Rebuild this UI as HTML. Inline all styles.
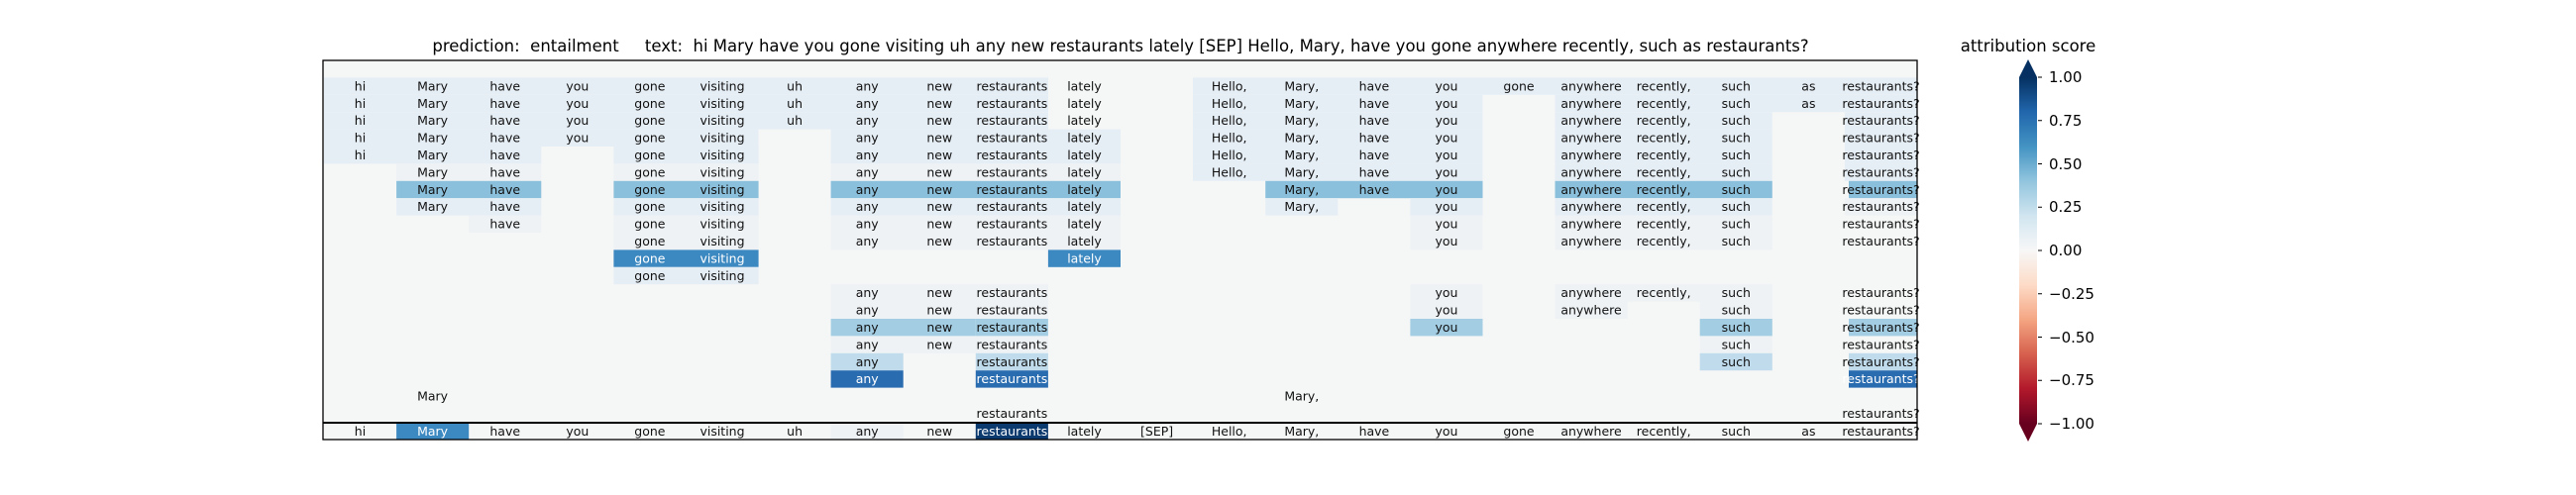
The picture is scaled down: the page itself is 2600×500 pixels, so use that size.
<!DOCTYPE html>
<html><head><meta charset="utf-8"><style>
html,body{margin:0;padding:0;background:#fff;width:2600px;height:500px;overflow:hidden}
svg{display:block}
text{font-family:"DejaVu Sans","Liberation Sans",sans-serif}
.c text{font-size:12.5px;text-anchor:middle;fill:#111}
.w{fill:#fff!important}
.a{fill:#e6eef5}.b{fill:#eef2f5}.m{fill:#8bc0dc}.n{fill:#a3cde3}.l{fill:#bfdbec}.d{fill:#3c88c1}.e{fill:#2a6cb0}.x{fill:#0b3a6f}
</style></head><body>
<svg width="2600" height="500" xmlns="http://www.w3.org/2000/svg">
<defs>
<linearGradient id="g" x1="0" y1="0" x2="0" y2="1">
<stop offset="0" stop-color="#053061"/><stop offset="0.1" stop-color="#2166ac"/><stop offset="0.2" stop-color="#4393c3"/><stop offset="0.3" stop-color="#92c5de"/><stop offset="0.4" stop-color="#d1e5f0"/><stop offset="0.5" stop-color="#f7f7f7"/><stop offset="0.6" stop-color="#fddbc7"/><stop offset="0.7" stop-color="#f4a582"/><stop offset="0.8" stop-color="#d6604d"/><stop offset="0.9" stop-color="#b2182b"/><stop offset="1" stop-color="#67001f"/>
</linearGradient>
</defs>
<text x="1131" y="52" font-size="16.5" text-anchor="middle" fill="#000" xml:space="preserve">prediction:  entailment     text:  hi Mary have you gone visiting uh any new restaurants lately [SEP] Hello, Mary, have you gone anywhere recently, such as restaurants?</text>
<rect x="326" y="61" width="1609" height="383" fill="#f5f6f6"/>
<g class="c">
<!-- R1 -->
<g transform="translate(0,78.4)">
<rect x="327" width="731" height="17.4" class="a"/><rect x="1204" width="731" height="17.4" class="a"/>
<text x="363.5" y="13">hi</text><text x="436.6" y="13">Mary</text><text x="509.7" y="13">have</text><text x="582.8" y="13">you</text><text x="655.9" y="13">gone</text><text x="729" y="13">visiting</text><text x="802.1" y="13">uh</text><text x="875.2" y="13">any</text><text x="948.3" y="13">new</text><text x="1021.4" y="13">restaurants</text><text x="1094.5" y="13">lately</text>
<text x="1240.7" y="13">Hello,</text><text x="1313.8" y="13">Mary,</text><text x="1386.9" y="13">have</text><text x="1460" y="13">you</text><text x="1533" y="13">gone</text><text x="1606" y="13">anywhere</text><text x="1679.2" y="13">recently,</text><text x="1752.3" y="13">such</text><text x="1825.4" y="13">as</text><text x="1898.5" y="13">restaurants?</text>
</g>
<!-- R2 -->
<g transform="translate(0,95.8)">
<rect x="327" width="731" height="17.4" class="a"/><rect x="1204" width="292.4" height="17.4" class="a"/><rect x="1569.5" width="365.5" height="17.4" class="a"/>
<text x="363.5" y="13">hi</text><text x="436.6" y="13">Mary</text><text x="509.7" y="13">have</text><text x="582.8" y="13">you</text><text x="655.9" y="13">gone</text><text x="729" y="13">visiting</text><text x="802.1" y="13">uh</text><text x="875.2" y="13">any</text><text x="948.3" y="13">new</text><text x="1021.4" y="13">restaurants</text><text x="1094.5" y="13">lately</text>
<text x="1240.7" y="13">Hello,</text><text x="1313.8" y="13">Mary,</text><text x="1386.9" y="13">have</text><text x="1460" y="13">you</text><text x="1606" y="13">anywhere</text><text x="1679.2" y="13">recently,</text><text x="1752.3" y="13">such</text><text x="1825.4" y="13">as</text><text x="1898.5" y="13">restaurants?</text>
</g>
<!-- R3 -->
<g transform="translate(0,113.2)">
<rect x="327" width="731" height="17.4" class="a"/><rect x="1204" width="292.4" height="17.4" class="a"/><rect x="1569.5" width="219.3" height="17.4" class="a"/><rect x="1861.9" width="73.1" height="17.4" class="a"/>
<text x="363.5" y="13">hi</text><text x="436.6" y="13">Mary</text><text x="509.7" y="13">have</text><text x="582.8" y="13">you</text><text x="655.9" y="13">gone</text><text x="729" y="13">visiting</text><text x="802.1" y="13">uh</text><text x="875.2" y="13">any</text><text x="948.3" y="13">new</text><text x="1021.4" y="13">restaurants</text><text x="1094.5" y="13">lately</text>
<text x="1240.7" y="13">Hello,</text><text x="1313.8" y="13">Mary,</text><text x="1386.9" y="13">have</text><text x="1460" y="13">you</text><text x="1606" y="13">anywhere</text><text x="1679.2" y="13">recently,</text><text x="1752.3" y="13">such</text><text x="1898.5" y="13">restaurants?</text>
</g>
<!-- R4 -->
<g transform="translate(0,130.6)">
<rect x="327" width="438.5" height="17.4" class="a"/><rect x="838.6" width="292.4" height="17.4" class="a"/><rect x="1204" width="292.4" height="17.4" class="a"/><rect x="1569.5" width="219.3" height="17.4" class="a"/><rect x="1861.9" width="73.1" height="17.4" class="a"/>
<text x="363.5" y="13">hi</text><text x="436.6" y="13">Mary</text><text x="509.7" y="13">have</text><text x="582.8" y="13">you</text><text x="655.9" y="13">gone</text><text x="729" y="13">visiting</text><text x="875.2" y="13">any</text><text x="948.3" y="13">new</text><text x="1021.4" y="13">restaurants</text><text x="1094.5" y="13">lately</text>
<text x="1240.7" y="13">Hello,</text><text x="1313.8" y="13">Mary,</text><text x="1386.9" y="13">have</text><text x="1460" y="13">you</text><text x="1606" y="13">anywhere</text><text x="1679.2" y="13">recently,</text><text x="1752.3" y="13">such</text><text x="1898.5" y="13">restaurants?</text>
</g>
<!-- R5 -->
<g transform="translate(0,148)">
<rect x="327" width="219.3" height="17.4" class="a"/><rect x="619.4" width="146.2" height="17.4" class="a"/><rect x="838.6" width="292.4" height="17.4" class="a"/><rect x="1204" width="292.4" height="17.4" class="a"/><rect x="1569.5" width="219.3" height="17.4" class="a"/><rect x="1861.9" width="73.1" height="17.4" class="a"/>
<text x="363.5" y="13">hi</text><text x="436.6" y="13">Mary</text><text x="509.7" y="13">have</text><text x="655.9" y="13">gone</text><text x="729" y="13">visiting</text><text x="875.2" y="13">any</text><text x="948.3" y="13">new</text><text x="1021.4" y="13">restaurants</text><text x="1094.5" y="13">lately</text>
<text x="1240.7" y="13">Hello,</text><text x="1313.8" y="13">Mary,</text><text x="1386.9" y="13">have</text><text x="1460" y="13">you</text><text x="1606" y="13">anywhere</text><text x="1679.2" y="13">recently,</text><text x="1752.3" y="13">such</text><text x="1898.5" y="13">restaurants?</text>
</g>
<!-- R6 -->
<g transform="translate(0,165.4)">
<rect x="400.1" width="146.2" height="17.4" class="b"/><rect x="619.4" width="146.2" height="17.4" class="b"/><rect x="838.6" width="292.4" height="17.4" class="b"/><rect x="1204" width="292.4" height="17.4" class="a"/><rect x="1569.5" width="219.3" height="17.4" class="a"/><rect x="1861.9" width="73.1" height="17.4" class="a"/>
<text x="436.6" y="13">Mary</text><text x="509.7" y="13">have</text><text x="655.9" y="13">gone</text><text x="729" y="13">visiting</text><text x="875.2" y="13">any</text><text x="948.3" y="13">new</text><text x="1021.4" y="13">restaurants</text><text x="1094.5" y="13">lately</text>
<text x="1240.7" y="13">Hello,</text><text x="1313.8" y="13">Mary,</text><text x="1386.9" y="13">have</text><text x="1460" y="13">you</text><text x="1606" y="13">anywhere</text><text x="1679.2" y="13">recently,</text><text x="1752.3" y="13">such</text><text x="1898.5" y="13">restaurants?</text>
</g>
<!-- R7 -->
<g transform="translate(0,182.8)">
<rect x="400.1" width="146.2" height="17.4" class="m"/><rect x="619.4" width="146.2" height="17.4" class="m"/><rect x="838.6" width="292.4" height="17.4" class="m"/><rect x="1277.2" width="219.3" height="17.4" class="m"/><rect x="1569.5" width="219.3" height="17.4" class="m"/><rect x="1866" width="69" height="17.4" class="m"/>
<text x="436.6" y="13">Mary</text><text x="509.7" y="13">have</text><text x="655.9" y="13">gone</text><text x="729" y="13">visiting</text><text x="875.2" y="13">any</text><text x="948.3" y="13">new</text><text x="1021.4" y="13">restaurants</text><text x="1094.5" y="13">lately</text>
<text x="1313.8" y="13">Mary,</text><text x="1386.9" y="13">have</text><text x="1460" y="13">you</text><text x="1606" y="13">anywhere</text><text x="1679.2" y="13">recently,</text><text x="1752.3" y="13">such</text><text x="1898.5" y="13">restaurants?</text>
</g>
<!-- R8 -->
<g transform="translate(0,200.2)">
<rect x="400.1" width="146.2" height="17.4" class="a"/><rect x="619.4" width="146.2" height="17.4" class="a"/><rect x="838.6" width="292.4" height="17.4" class="a"/><rect x="1277.2" width="73.1" height="17.4" class="a"/><rect x="1423.4" width="73.1" height="17.4" class="a"/><rect x="1569.5" width="219.3" height="17.4" class="a"/><rect x="1861.9" width="73.1" height="17.4" class="b"/>
<text x="436.6" y="13">Mary</text><text x="509.7" y="13">have</text><text x="655.9" y="13">gone</text><text x="729" y="13">visiting</text><text x="875.2" y="13">any</text><text x="948.3" y="13">new</text><text x="1021.4" y="13">restaurants</text><text x="1094.5" y="13">lately</text>
<text x="1313.8" y="13">Mary,</text><text x="1460" y="13">you</text><text x="1606" y="13">anywhere</text><text x="1679.2" y="13">recently,</text><text x="1752.3" y="13">such</text><text x="1898.5" y="13">restaurants?</text>
</g>
<!-- R9 -->
<g transform="translate(0,217.6)">
<rect x="473.2" width="73.1" height="17.4" class="b"/><rect x="619.4" width="146.2" height="17.4" class="b"/><rect x="838.6" width="292.4" height="17.4" class="b"/><rect x="1423.4" width="73.1" height="17.4" class="b"/><rect x="1569.5" width="219.3" height="17.4" class="b"/>
<text x="509.7" y="13">have</text><text x="655.9" y="13">gone</text><text x="729" y="13">visiting</text><text x="875.2" y="13">any</text><text x="948.3" y="13">new</text><text x="1021.4" y="13">restaurants</text><text x="1094.5" y="13">lately</text>
<text x="1460" y="13">you</text><text x="1606" y="13">anywhere</text><text x="1679.2" y="13">recently,</text><text x="1752.3" y="13">such</text><text x="1898.5" y="13">restaurants?</text>
</g>
<!-- R10 -->
<g transform="translate(0,235)">
<rect x="619.4" width="146.2" height="17.4" class="b"/><rect x="838.6" width="292.4" height="17.4" class="b"/><rect x="1423.4" width="73.1" height="17.4" class="b"/><rect x="1569.5" width="219.3" height="17.4" class="b"/>
<text x="655.9" y="13">gone</text><text x="729" y="13">visiting</text><text x="875.2" y="13">any</text><text x="948.3" y="13">new</text><text x="1021.4" y="13">restaurants</text><text x="1094.5" y="13">lately</text>
<text x="1460" y="13">you</text><text x="1606" y="13">anywhere</text><text x="1679.2" y="13">recently,</text><text x="1752.3" y="13">such</text><text x="1898.5" y="13">restaurants?</text>
</g>
<!-- R11 -->
<g transform="translate(0,252.4)">
<rect x="619.4" width="146.2" height="17.4" class="d"/><rect x="1057.9" width="73.1" height="17.4" class="d"/>
<text x="655.9" y="13" class="w">gone</text><text x="729" y="13" class="w">visiting</text><text x="1094.5" y="13" class="w">lately</text>
</g>
<!-- R12 -->
<g transform="translate(0,269.8)">
<rect x="619.4" width="146.2" height="17.4" class="a"/>
<text x="655.9" y="13">gone</text><text x="729" y="13">visiting</text>
</g>
<!-- R13 -->
<g transform="translate(0,287.2)">
<rect x="838.6" width="219.3" height="17.4" class="b"/><rect x="1423.4" width="73.1" height="17.4" class="b"/><rect x="1569.5" width="219.3" height="17.4" class="b"/>
<text x="875.2" y="13">any</text><text x="948.3" y="13">new</text><text x="1021.4" y="13">restaurants</text>
<text x="1460" y="13">you</text><text x="1606" y="13">anywhere</text><text x="1679.2" y="13">recently,</text><text x="1752.3" y="13">such</text><text x="1898.5" y="13">restaurants?</text>
</g>
<!-- R14 -->
<g transform="translate(0,304.6)">
<rect x="838.6" width="219.3" height="17.4" class="b"/><rect x="1423.4" width="73.1" height="17.4" class="b"/><rect x="1569.5" width="73.1" height="17.4" class="b"/><rect x="1715.7" width="73.1" height="17.4" class="b"/>
<text x="875.2" y="13">any</text><text x="948.3" y="13">new</text><text x="1021.4" y="13">restaurants</text>
<text x="1460" y="13">you</text><text x="1606" y="13">anywhere</text><text x="1752.3" y="13">such</text><text x="1898.5" y="13">restaurants?</text>
</g>
<!-- R15 -->
<g transform="translate(0,322)">
<rect x="838.6" width="146.2" height="17.4" class="n"/><rect x="984.8" width="73.1" height="17.4" class="n"/><rect x="1423.4" width="73.1" height="17.4" class="n"/><rect x="1715.7" width="73.1" height="17.4" class="n"/><rect x="1866" width="69" height="17.4" class="n"/>
<text x="875.2" y="13">any</text><text x="948.3" y="13">new</text><text x="1021.4" y="13">restaurants</text>
<text x="1460" y="13">you</text><text x="1752.3" y="13">such</text><text x="1898.5" y="13">restaurants?</text>
</g>
<!-- R16 -->
<g transform="translate(0,339.4)">
<rect x="838.6" width="219.3" height="17.4" class="b"/><rect x="1715.7" width="73.1" height="17.4" class="b"/>
<text x="875.2" y="13">any</text><text x="948.3" y="13">new</text><text x="1021.4" y="13">restaurants</text>
<text x="1752.3" y="13">such</text><text x="1898.5" y="13">restaurants?</text>
</g>
<!-- R17 -->
<g transform="translate(0,356.8)">
<rect x="838.6" width="73.1" height="17.4" class="l"/><rect x="984.8" width="73.1" height="17.4" class="l"/><rect x="1715.7" width="73.1" height="17.4" class="l"/><rect x="1866" width="69" height="17.4" class="l"/>
<text x="875.2" y="13">any</text><text x="1021.4" y="13">restaurants</text>
<text x="1752.3" y="13">such</text><text x="1898.5" y="13">restaurants?</text>
</g>
<!-- R18 -->
<g transform="translate(0,374.2)">
<rect x="838.6" width="73.1" height="17.4" class="e"/><rect x="984.8" width="73.1" height="17.4" class="e"/><rect x="1866" width="69" height="17.4" class="e"/>
<text x="875.2" y="13" class="w">any</text><text x="1021.4" y="13" class="w">restaurants</text><text x="1898.5" y="13" class="w">restaurants?</text>
</g>
<!-- R19 -->
<g transform="translate(0,391.6)">
<text x="436.6" y="13">Mary</text><text x="1313.8" y="13">Mary,</text>
</g>
<!-- R20 -->
<g transform="translate(0,409)">
<text x="1021.4" y="13">restaurants</text><text x="1898.5" y="13">restaurants?</text>
</g>
<!-- R21 bottom -->
<g transform="translate(0,427.4)">
<rect x="400.1" width="73.1" height="16.6" class="d"/><rect x="838.6" width="73.1" height="16.6" class="b"/><rect x="984.8" width="73.1" height="16.6" class="x"/>
<text x="363.5" y="12.5">hi</text><text x="436.6" y="12.5" class="w">Mary</text><text x="509.7" y="12.5">have</text><text x="582.8" y="12.5">you</text><text x="655.9" y="12.5">gone</text><text x="729" y="12.5">visiting</text><text x="802.1" y="12.5">uh</text><text x="875.2" y="12.5">any</text><text x="948.3" y="12.5">new</text><text x="1021.4" y="12.5" class="w">restaurants</text><text x="1094.5" y="12.5">lately</text><text x="1167.6" y="12.5">[SEP]</text>
<text x="1240.7" y="12.5">Hello,</text><text x="1313.8" y="12.5">Mary,</text><text x="1386.9" y="12.5">have</text><text x="1460" y="12.5">you</text><text x="1533" y="12.5">gone</text><text x="1606" y="12.5">anywhere</text><text x="1679.2" y="12.5">recently,</text><text x="1752.3" y="12.5">such</text><text x="1825.4" y="12.5">as</text><text x="1898.5" y="12.5">restaurants?</text>
</g>
</g>
<line x1="326" y1="427" x2="1935" y2="427" stroke="#000" stroke-width="2"/>
<rect x="326" y="61" width="1609" height="383" fill="none" stroke="#000" stroke-width="1.3"/>
<!-- colorbar -->
<text x="2047" y="52" font-size="16.5" text-anchor="middle" fill="#000">attribution score</text>
<polygon points="2047,60 2038,78 2056,78" fill="#053061"/>
<rect x="2038" y="78" width="18" height="350" fill="url(#g)"/>
<polygon points="2038,428 2056,428 2047,446" fill="#67001f"/>
<g stroke="#000" stroke-width="1">
<line x1="2057" y1="78" x2="2061" y2="78"/><line x1="2057" y1="121.75" x2="2061" y2="121.75"/><line x1="2057" y1="165.5" x2="2061" y2="165.5"/><line x1="2057" y1="209.25" x2="2061" y2="209.25"/><line x1="2057" y1="253" x2="2061" y2="253"/><line x1="2057" y1="296.75" x2="2061" y2="296.75"/><line x1="2057" y1="340.5" x2="2061" y2="340.5"/><line x1="2057" y1="384.25" x2="2061" y2="384.25"/><line x1="2057" y1="428" x2="2061" y2="428"/>
</g>
<g font-size="15" fill="#000">
<text x="2068" y="83">1.00</text><text x="2068" y="127">0.75</text><text x="2068" y="171">0.50</text><text x="2068" y="214">0.25</text><text x="2068" y="258">0.00</text><text x="2068" y="302">−0.25</text><text x="2068" y="346">−0.50</text><text x="2068" y="389">−0.75</text><text x="2068" y="433">−1.00</text>
</g>
</svg>
</body></html>
